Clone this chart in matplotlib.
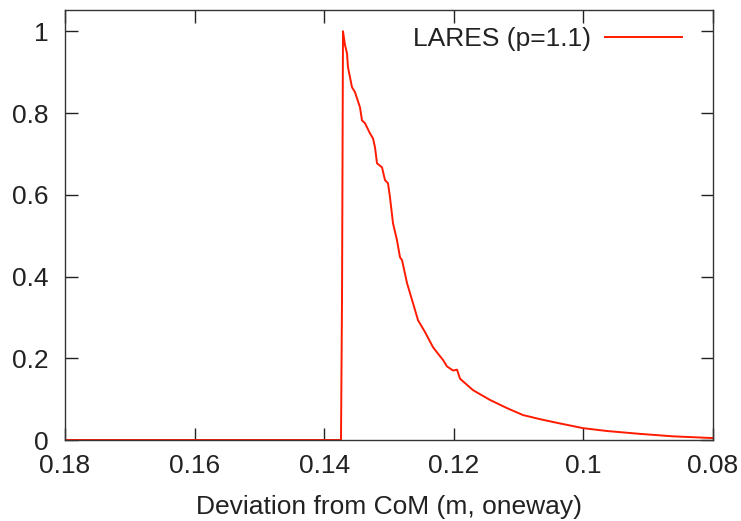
import matplotlib
matplotlib.use("Agg")
import matplotlib.pyplot as plt
from matplotlib.ticker import FuncFormatter

plt.rcParams['font.family'] = ['Liberation Sans', 'DejaVu Sans']

# Data (deviation in m, normalised count)
dev = [0.18, 0.13741, 0.13725, 0.13710, 0.13679, 0.13648, 0.13633, 0.13571,
       0.13525, 0.13448, 0.13417, 0.13370, 0.13293, 0.13247, 0.13216, 0.13185,
       0.13108, 0.13062, 0.13015, 0.12985, 0.12938, 0.12877, 0.12830, 0.12799,
       0.12722, 0.12630, 0.12552, 0.12444, 0.12321, 0.12213, 0.12167, 0.12105,
       0.12012, 0.11950, 0.11904, 0.11704, 0.11441, 0.11179, 0.10932, 0.10670,
       0.10407, 0.10160, 0.10006, 0.09636, 0.09127, 0.08617, 0.08046, 0.08000]
val = [0.0, 0.0, 0.35, 1.0, 0.966, 0.946, 0.912, 0.863,
       0.851, 0.814, 0.782, 0.775, 0.750, 0.738, 0.716, 0.677,
       0.667, 0.636, 0.628, 0.594, 0.530, 0.489, 0.447, 0.440,
       0.384, 0.335, 0.293, 0.264, 0.227, 0.205, 0.196, 0.180,
       0.170, 0.172, 0.150, 0.122, 0.098, 0.078, 0.061, 0.051,
       0.042, 0.034, 0.029, 0.022, 0.015, 0.009, 0.005, 0.005]
series_label = "LARES (p=1.1)"
xticks = [0.18, 0.16, 0.14, 0.12, 0.10, 0.08]
yticks = [0, 0.2, 0.4, 0.6, 0.8, 1.0]

fig = plt.figure(figsize=(7.41, 5.21), dpi=100)
ax = fig.add_axes([65/741, 81/521, 648/741, 430/521])
ax.plot(dev, val, color='#ff1a00', lw=1.4, label=series_label)

ax.set_xlim(0.18, 0.08)
ax.set_ylim(0, 1.052)
ax.set_xticks(xticks)
ax.set_yticks(yticks)
fmt = FuncFormatter(lambda v, p: f"{v:g}")
ax.xaxis.set_major_formatter(fmt)
ax.yaxis.set_major_formatter(fmt)
ax.tick_params(direction='in', length=9, width=1, top=True, right=True,
               labelsize=19, colors='#222222')
ax.tick_params(axis='x', pad=10)
ax.tick_params(axis='y', pad=12)
for s in ax.spines.values():
    s.set_color('#333333')
    s.set_linewidth(1)
ax.set_xlabel("Deviation from CoM (m, oneway)", fontsize=19, color='#222222', labelpad=12)

leg = ax.legend(loc='center right', frameon=False, markerfirst=False, fontsize=19,
                handlelength=2.9, handletextpad=0.55, borderaxespad=0, borderpad=0,
                bbox_to_anchor=(0.952, 0.933))
for t in leg.get_texts():
    t.set_color('#222222')

fig.savefig("out.png", dpi=100)
